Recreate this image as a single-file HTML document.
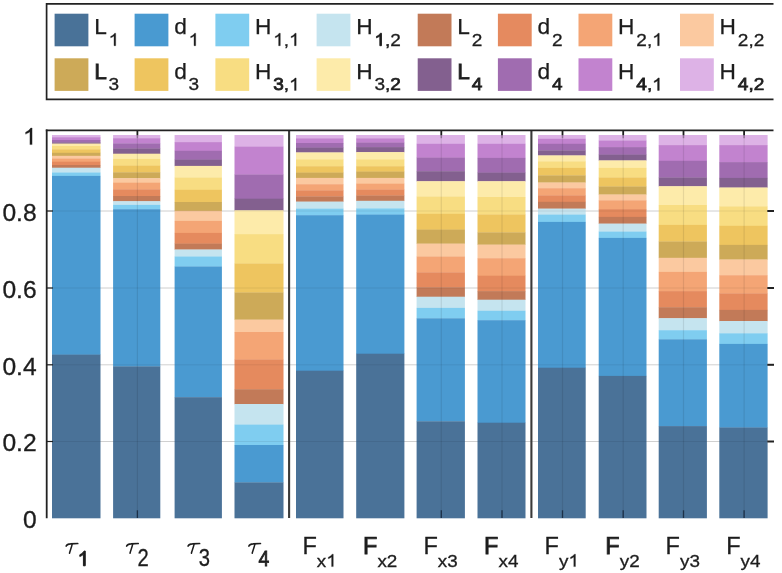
<!DOCTYPE html>
<html><head><meta charset="utf-8"><title>chart</title>
<style>html,body{margin:0;padding:0;background:#fff;}body{width:782px;height:573px;overflow:hidden;}svg{display:block;}text{font-family:"Liberation Sans",sans-serif;fill:#1c1c1c;stroke:#1c1c1c;stroke-width:0.3px;}</style></head><body>
<svg width="782" height="573" viewBox="0 0 782 573">
<defs><filter id="tb" x="-5%" y="-5%" width="110%" height="110%"><feGaussianBlur stdDeviation="0.35"/></filter></defs>
<rect width="782" height="573" fill="#fff"/>
<line x1="47" x2="773.5" y1="211.0" y2="211.0" stroke="#dcdcdc" stroke-width="0.9"/>
<line x1="47" x2="773.5" y1="288.0" y2="288.0" stroke="#dcdcdc" stroke-width="0.9"/>
<line x1="47" x2="773.5" y1="364.8" y2="364.8" stroke="#dcdcdc" stroke-width="0.9"/>
<line x1="47" x2="773.5" y1="441.5" y2="441.5" stroke="#dcdcdc" stroke-width="0.9"/>
<rect x="52.00" y="135.00" width="48.50" height="2.50" fill="#ddb2e6"/>
<rect x="52.00" y="137.20" width="48.50" height="3.10" fill="#c283cf"/>
<rect x="52.00" y="140.00" width="48.50" height="2.60" fill="#a06cb0"/>
<rect x="52.00" y="142.30" width="48.50" height="1.60" fill="#83608f"/>
<rect x="52.00" y="143.60" width="48.50" height="2.70" fill="#fdebaa"/>
<rect x="52.00" y="146.00" width="48.50" height="3.60" fill="#f8dd82"/>
<rect x="52.00" y="149.30" width="48.50" height="3.80" fill="#eec55f"/>
<rect x="52.00" y="152.80" width="48.50" height="3.30" fill="#cdaa58"/>
<rect x="52.00" y="155.80" width="48.50" height="3.00" fill="#fbc9a0"/>
<rect x="52.00" y="158.50" width="48.50" height="3.50" fill="#f4a575"/>
<rect x="52.00" y="161.70" width="48.50" height="3.60" fill="#e58a5e"/>
<rect x="52.00" y="165.00" width="48.50" height="3.00" fill="#c27a58"/>
<rect x="52.00" y="167.70" width="48.50" height="5.10" fill="#c5e4ef"/>
<rect x="52.00" y="172.50" width="48.50" height="3.70" fill="#7fcdf0"/>
<rect x="52.00" y="175.90" width="48.50" height="179.00" fill="#4a9ad1"/>
<rect x="52.00" y="354.60" width="48.50" height="163.70" fill="#4a7298"/>
<rect x="113.10" y="135.00" width="47.20" height="3.50" fill="#ddb2e6"/>
<rect x="113.10" y="138.20" width="47.20" height="5.50" fill="#c283cf"/>
<rect x="113.10" y="143.40" width="47.20" height="5.40" fill="#a06cb0"/>
<rect x="113.10" y="148.50" width="47.20" height="5.50" fill="#83608f"/>
<rect x="113.10" y="153.70" width="47.20" height="5.50" fill="#fdebaa"/>
<rect x="113.10" y="158.90" width="47.20" height="7.00" fill="#f8dd82"/>
<rect x="113.10" y="165.60" width="47.20" height="7.00" fill="#eec55f"/>
<rect x="113.10" y="172.30" width="47.20" height="6.20" fill="#cdaa58"/>
<rect x="113.10" y="178.20" width="47.20" height="4.80" fill="#fbc9a0"/>
<rect x="113.10" y="182.70" width="47.20" height="6.90" fill="#f4a575"/>
<rect x="113.10" y="189.30" width="47.20" height="7.00" fill="#e58a5e"/>
<rect x="113.10" y="196.00" width="47.20" height="5.50" fill="#c27a58"/>
<rect x="113.10" y="201.20" width="47.20" height="4.00" fill="#c5e4ef"/>
<rect x="113.10" y="204.90" width="47.20" height="4.60" fill="#7fcdf0"/>
<rect x="113.10" y="209.20" width="47.20" height="157.50" fill="#4a9ad1"/>
<rect x="113.10" y="366.40" width="47.20" height="151.90" fill="#4a7298"/>
<rect x="174.60" y="135.00" width="47.30" height="7.40" fill="#ddb2e6"/>
<rect x="174.60" y="142.10" width="47.30" height="9.00" fill="#c283cf"/>
<rect x="174.60" y="150.80" width="47.30" height="9.10" fill="#a06cb0"/>
<rect x="174.60" y="159.60" width="47.30" height="6.60" fill="#83608f"/>
<rect x="174.60" y="165.90" width="47.30" height="11.90" fill="#fdebaa"/>
<rect x="174.60" y="177.50" width="47.30" height="12.60" fill="#f8dd82"/>
<rect x="174.60" y="189.80" width="47.30" height="12.50" fill="#eec55f"/>
<rect x="174.60" y="202.00" width="47.30" height="9.10" fill="#cdaa58"/>
<rect x="174.60" y="210.80" width="47.30" height="10.40" fill="#fbc9a0"/>
<rect x="174.60" y="220.90" width="47.30" height="12.30" fill="#f4a575"/>
<rect x="174.60" y="232.90" width="47.30" height="11.00" fill="#e58a5e"/>
<rect x="174.60" y="243.60" width="47.30" height="6.20" fill="#c27a58"/>
<rect x="174.60" y="249.50" width="47.30" height="7.30" fill="#c5e4ef"/>
<rect x="174.60" y="256.50" width="47.30" height="10.30" fill="#7fcdf0"/>
<rect x="174.60" y="266.50" width="47.30" height="131.00" fill="#4a9ad1"/>
<rect x="174.60" y="397.20" width="47.30" height="121.10" fill="#4a7298"/>
<rect x="234.50" y="135.00" width="49.00" height="11.90" fill="#ddb2e6"/>
<rect x="234.50" y="146.60" width="49.00" height="28.20" fill="#c283cf"/>
<rect x="234.50" y="174.50" width="49.00" height="24.50" fill="#a06cb0"/>
<rect x="234.50" y="198.70" width="49.00" height="11.90" fill="#83608f"/>
<rect x="234.50" y="210.30" width="49.00" height="24.10" fill="#fdebaa"/>
<rect x="234.50" y="234.10" width="49.00" height="29.70" fill="#f8dd82"/>
<rect x="234.50" y="263.50" width="49.00" height="29.30" fill="#eec55f"/>
<rect x="234.50" y="292.50" width="49.00" height="27.40" fill="#cdaa58"/>
<rect x="234.50" y="319.60" width="49.00" height="12.70" fill="#fbc9a0"/>
<rect x="234.50" y="332.00" width="49.00" height="27.70" fill="#f4a575"/>
<rect x="234.50" y="359.40" width="49.00" height="30.10" fill="#e58a5e"/>
<rect x="234.50" y="389.20" width="49.00" height="15.10" fill="#c27a58"/>
<rect x="234.50" y="404.00" width="49.00" height="20.90" fill="#c5e4ef"/>
<rect x="234.50" y="424.60" width="49.00" height="20.70" fill="#7fcdf0"/>
<rect x="234.50" y="445.00" width="49.00" height="37.70" fill="#4a9ad1"/>
<rect x="234.50" y="482.40" width="49.00" height="35.90" fill="#4a7298"/>
<rect x="296.00" y="135.00" width="47.50" height="3.60" fill="#ddb2e6"/>
<rect x="296.00" y="138.30" width="47.50" height="5.00" fill="#c283cf"/>
<rect x="296.00" y="143.00" width="47.50" height="4.90" fill="#a06cb0"/>
<rect x="296.00" y="147.60" width="47.50" height="5.10" fill="#83608f"/>
<rect x="296.00" y="152.40" width="47.50" height="7.20" fill="#fdebaa"/>
<rect x="296.00" y="159.30" width="47.50" height="7.20" fill="#f8dd82"/>
<rect x="296.00" y="166.20" width="47.50" height="6.70" fill="#eec55f"/>
<rect x="296.00" y="172.60" width="47.50" height="5.60" fill="#cdaa58"/>
<rect x="296.00" y="177.90" width="47.50" height="6.60" fill="#fbc9a0"/>
<rect x="296.00" y="184.20" width="47.50" height="6.40" fill="#f4a575"/>
<rect x="296.00" y="190.30" width="47.50" height="6.40" fill="#e58a5e"/>
<rect x="296.00" y="196.40" width="47.50" height="5.50" fill="#c27a58"/>
<rect x="296.00" y="201.60" width="47.50" height="7.40" fill="#c5e4ef"/>
<rect x="296.00" y="208.70" width="47.50" height="6.80" fill="#7fcdf0"/>
<rect x="296.00" y="215.20" width="47.50" height="155.80" fill="#4a9ad1"/>
<rect x="296.00" y="370.70" width="47.50" height="147.60" fill="#4a7298"/>
<rect x="356.20" y="135.00" width="48.20" height="3.60" fill="#ddb2e6"/>
<rect x="356.20" y="138.30" width="48.20" height="4.60" fill="#c283cf"/>
<rect x="356.20" y="142.60" width="48.20" height="4.80" fill="#a06cb0"/>
<rect x="356.20" y="147.10" width="48.20" height="5.30" fill="#83608f"/>
<rect x="356.20" y="152.10" width="48.20" height="7.50" fill="#fdebaa"/>
<rect x="356.20" y="159.30" width="48.20" height="7.20" fill="#f8dd82"/>
<rect x="356.20" y="166.20" width="48.20" height="5.70" fill="#eec55f"/>
<rect x="356.20" y="171.60" width="48.20" height="6.60" fill="#cdaa58"/>
<rect x="356.20" y="177.90" width="48.20" height="6.10" fill="#fbc9a0"/>
<rect x="356.20" y="183.70" width="48.20" height="6.10" fill="#f4a575"/>
<rect x="356.20" y="189.50" width="48.20" height="6.30" fill="#e58a5e"/>
<rect x="356.20" y="195.50" width="48.20" height="5.60" fill="#c27a58"/>
<rect x="356.20" y="200.80" width="48.20" height="7.90" fill="#c5e4ef"/>
<rect x="356.20" y="208.40" width="48.20" height="6.50" fill="#7fcdf0"/>
<rect x="356.20" y="214.60" width="48.20" height="139.40" fill="#4a9ad1"/>
<rect x="356.20" y="353.70" width="48.20" height="164.60" fill="#4a7298"/>
<rect x="416.60" y="135.00" width="48.30" height="9.10" fill="#ddb2e6"/>
<rect x="416.60" y="143.80" width="48.30" height="14.10" fill="#c283cf"/>
<rect x="416.60" y="157.60" width="48.30" height="13.90" fill="#a06cb0"/>
<rect x="416.60" y="171.20" width="48.30" height="10.30" fill="#83608f"/>
<rect x="416.60" y="181.20" width="48.30" height="15.60" fill="#fdebaa"/>
<rect x="416.60" y="196.50" width="48.30" height="17.60" fill="#f8dd82"/>
<rect x="416.60" y="213.80" width="48.30" height="16.10" fill="#eec55f"/>
<rect x="416.60" y="229.60" width="48.30" height="14.30" fill="#cdaa58"/>
<rect x="416.60" y="243.60" width="48.30" height="13.20" fill="#fbc9a0"/>
<rect x="416.60" y="256.50" width="48.30" height="16.10" fill="#f4a575"/>
<rect x="416.60" y="272.30" width="48.30" height="15.30" fill="#e58a5e"/>
<rect x="416.60" y="287.30" width="48.30" height="9.70" fill="#c27a58"/>
<rect x="416.60" y="296.70" width="48.30" height="11.50" fill="#c5e4ef"/>
<rect x="416.60" y="307.90" width="48.30" height="10.70" fill="#7fcdf0"/>
<rect x="416.60" y="318.30" width="48.30" height="103.30" fill="#4a9ad1"/>
<rect x="416.60" y="421.30" width="48.30" height="97.00" fill="#4a7298"/>
<rect x="477.50" y="135.00" width="48.00" height="9.10" fill="#ddb2e6"/>
<rect x="477.50" y="143.80" width="48.00" height="14.40" fill="#c283cf"/>
<rect x="477.50" y="157.90" width="48.00" height="15.00" fill="#a06cb0"/>
<rect x="477.50" y="172.60" width="48.00" height="8.90" fill="#83608f"/>
<rect x="477.50" y="181.20" width="48.00" height="16.10" fill="#fdebaa"/>
<rect x="477.50" y="197.00" width="48.00" height="17.70" fill="#f8dd82"/>
<rect x="477.50" y="214.40" width="48.00" height="18.30" fill="#eec55f"/>
<rect x="477.50" y="232.40" width="48.00" height="12.50" fill="#cdaa58"/>
<rect x="477.50" y="244.60" width="48.00" height="13.90" fill="#fbc9a0"/>
<rect x="477.50" y="258.20" width="48.00" height="17.80" fill="#f4a575"/>
<rect x="477.50" y="275.70" width="48.00" height="15.70" fill="#e58a5e"/>
<rect x="477.50" y="291.10" width="48.00" height="8.90" fill="#c27a58"/>
<rect x="477.50" y="299.70" width="48.00" height="11.40" fill="#c5e4ef"/>
<rect x="477.50" y="310.80" width="48.00" height="9.70" fill="#7fcdf0"/>
<rect x="477.50" y="320.20" width="48.00" height="102.80" fill="#4a9ad1"/>
<rect x="477.50" y="422.70" width="48.00" height="95.60" fill="#4a7298"/>
<rect x="538.00" y="135.00" width="47.70" height="4.10" fill="#ddb2e6"/>
<rect x="538.00" y="138.80" width="47.70" height="5.30" fill="#c283cf"/>
<rect x="538.00" y="143.80" width="47.70" height="6.90" fill="#a06cb0"/>
<rect x="538.00" y="150.40" width="47.70" height="5.30" fill="#83608f"/>
<rect x="538.00" y="155.40" width="47.70" height="6.20" fill="#fdebaa"/>
<rect x="538.00" y="161.30" width="47.70" height="6.90" fill="#f8dd82"/>
<rect x="538.00" y="167.90" width="47.70" height="7.80" fill="#eec55f"/>
<rect x="538.00" y="175.40" width="47.70" height="7.40" fill="#cdaa58"/>
<rect x="538.00" y="182.50" width="47.70" height="6.00" fill="#fbc9a0"/>
<rect x="538.00" y="188.20" width="47.70" height="7.40" fill="#f4a575"/>
<rect x="538.00" y="195.30" width="47.70" height="6.80" fill="#e58a5e"/>
<rect x="538.00" y="201.80" width="47.70" height="7.10" fill="#c27a58"/>
<rect x="538.00" y="208.60" width="47.70" height="6.30" fill="#c5e4ef"/>
<rect x="538.00" y="214.60" width="47.70" height="7.60" fill="#7fcdf0"/>
<rect x="538.00" y="221.90" width="47.70" height="146.10" fill="#4a9ad1"/>
<rect x="538.00" y="367.70" width="47.70" height="150.60" fill="#4a7298"/>
<rect x="598.70" y="135.00" width="47.80" height="5.80" fill="#ddb2e6"/>
<rect x="598.70" y="140.50" width="47.80" height="6.90" fill="#c283cf"/>
<rect x="598.70" y="147.10" width="47.80" height="7.80" fill="#a06cb0"/>
<rect x="598.70" y="154.60" width="47.80" height="6.10" fill="#83608f"/>
<rect x="598.70" y="160.40" width="47.80" height="7.80" fill="#fdebaa"/>
<rect x="598.70" y="167.90" width="47.80" height="9.90" fill="#f8dd82"/>
<rect x="598.70" y="177.50" width="47.80" height="9.30" fill="#eec55f"/>
<rect x="598.70" y="186.50" width="47.80" height="8.30" fill="#cdaa58"/>
<rect x="598.70" y="194.50" width="47.80" height="6.10" fill="#fbc9a0"/>
<rect x="598.70" y="200.30" width="47.80" height="9.10" fill="#f4a575"/>
<rect x="598.70" y="209.10" width="47.80" height="8.10" fill="#e58a5e"/>
<rect x="598.70" y="216.90" width="47.80" height="7.00" fill="#c27a58"/>
<rect x="598.70" y="223.60" width="47.80" height="8.30" fill="#c5e4ef"/>
<rect x="598.70" y="231.60" width="47.80" height="6.60" fill="#7fcdf0"/>
<rect x="598.70" y="237.90" width="47.80" height="138.30" fill="#4a9ad1"/>
<rect x="598.70" y="375.90" width="47.80" height="142.40" fill="#4a7298"/>
<rect x="658.70" y="135.00" width="48.20" height="10.40" fill="#ddb2e6"/>
<rect x="658.70" y="145.10" width="48.20" height="16.00" fill="#c283cf"/>
<rect x="658.70" y="160.80" width="48.20" height="17.00" fill="#a06cb0"/>
<rect x="658.70" y="177.50" width="48.20" height="9.00" fill="#83608f"/>
<rect x="658.70" y="186.20" width="48.20" height="19.10" fill="#fdebaa"/>
<rect x="658.70" y="205.00" width="48.20" height="20.20" fill="#f8dd82"/>
<rect x="658.70" y="224.90" width="48.20" height="16.90" fill="#eec55f"/>
<rect x="658.70" y="241.50" width="48.20" height="16.60" fill="#cdaa58"/>
<rect x="658.70" y="257.80" width="48.20" height="14.40" fill="#fbc9a0"/>
<rect x="658.70" y="271.90" width="48.20" height="19.50" fill="#f4a575"/>
<rect x="658.70" y="291.10" width="48.20" height="16.40" fill="#e58a5e"/>
<rect x="658.70" y="307.20" width="48.20" height="11.30" fill="#c27a58"/>
<rect x="658.70" y="318.20" width="48.20" height="12.30" fill="#c5e4ef"/>
<rect x="658.70" y="330.20" width="48.20" height="9.40" fill="#7fcdf0"/>
<rect x="658.70" y="339.30" width="48.20" height="87.10" fill="#4a9ad1"/>
<rect x="658.70" y="426.10" width="48.20" height="92.20" fill="#4a7298"/>
<rect x="719.30" y="135.00" width="48.30" height="10.40" fill="#ddb2e6"/>
<rect x="719.30" y="145.10" width="48.30" height="17.30" fill="#c283cf"/>
<rect x="719.30" y="162.10" width="48.30" height="16.10" fill="#a06cb0"/>
<rect x="719.30" y="177.90" width="48.30" height="9.90" fill="#83608f"/>
<rect x="719.30" y="187.50" width="48.30" height="19.10" fill="#fdebaa"/>
<rect x="719.30" y="206.30" width="48.30" height="19.80" fill="#f8dd82"/>
<rect x="719.30" y="225.80" width="48.30" height="19.40" fill="#eec55f"/>
<rect x="719.30" y="244.90" width="48.30" height="14.90" fill="#cdaa58"/>
<rect x="719.30" y="259.50" width="48.30" height="16.00" fill="#fbc9a0"/>
<rect x="719.30" y="275.20" width="48.30" height="18.40" fill="#f4a575"/>
<rect x="719.30" y="293.30" width="48.30" height="16.90" fill="#e58a5e"/>
<rect x="719.30" y="309.90" width="48.30" height="11.40" fill="#c27a58"/>
<rect x="719.30" y="321.00" width="48.30" height="12.60" fill="#c5e4ef"/>
<rect x="719.30" y="333.30" width="48.30" height="10.90" fill="#7fcdf0"/>
<rect x="719.30" y="343.90" width="48.30" height="83.90" fill="#4a9ad1"/>
<rect x="719.30" y="427.50" width="48.30" height="90.80" fill="#4a7298"/>
<line x1="47" x2="773.5" y1="211.0" y2="211.0" stroke="#000" stroke-opacity="0.07" stroke-width="1"/>
<line x1="47" x2="773.5" y1="288.0" y2="288.0" stroke="#000" stroke-opacity="0.07" stroke-width="1"/>
<line x1="47" x2="773.5" y1="364.8" y2="364.8" stroke="#000" stroke-opacity="0.07" stroke-width="1"/>
<line x1="47" x2="773.5" y1="441.5" y2="441.5" stroke="#000" stroke-opacity="0.07" stroke-width="1"/>
<line x1="137.40" x2="137.40" y1="131" y2="518" stroke="#000" stroke-opacity="0.09" stroke-width="1.2"/>
<line x1="137.40" x2="137.40" y1="130" y2="135.2" stroke="#1e1e1e" stroke-width="1.8"/>
<line x1="137.40" x2="137.40" y1="135.2" y2="138.2" stroke="#000" stroke-opacity="0.3" stroke-width="1.6"/>
<line x1="137.40" x2="137.40" y1="510.3" y2="518" stroke="#1c3048" stroke-width="1.3"/>
<line x1="441.30" x2="441.30" y1="131" y2="518" stroke="#000" stroke-opacity="0.09" stroke-width="1.2"/>
<line x1="441.30" x2="441.30" y1="130" y2="135.2" stroke="#1e1e1e" stroke-width="1.8"/>
<line x1="441.30" x2="441.30" y1="135.2" y2="138.2" stroke="#000" stroke-opacity="0.3" stroke-width="1.6"/>
<line x1="441.30" x2="441.30" y1="510.3" y2="518" stroke="#1c3048" stroke-width="1.3"/>
<line x1="502.00" x2="502.00" y1="131" y2="518" stroke="#000" stroke-opacity="0.09" stroke-width="1.2"/>
<line x1="502.00" x2="502.00" y1="130" y2="135.2" stroke="#1e1e1e" stroke-width="1.8"/>
<line x1="502.00" x2="502.00" y1="135.2" y2="138.2" stroke="#000" stroke-opacity="0.3" stroke-width="1.6"/>
<line x1="502.00" x2="502.00" y1="510.3" y2="518" stroke="#1c3048" stroke-width="1.3"/>
<line x1="562.50" x2="562.50" y1="131" y2="518" stroke="#000" stroke-opacity="0.09" stroke-width="1.2"/>
<line x1="562.50" x2="562.50" y1="130" y2="135.2" stroke="#1e1e1e" stroke-width="1.8"/>
<line x1="562.50" x2="562.50" y1="135.2" y2="138.2" stroke="#000" stroke-opacity="0.3" stroke-width="1.6"/>
<line x1="562.50" x2="562.50" y1="510.3" y2="518" stroke="#1c3048" stroke-width="1.3"/>
<line x1="623.20" x2="623.20" y1="131" y2="518" stroke="#000" stroke-opacity="0.09" stroke-width="1.2"/>
<line x1="623.20" x2="623.20" y1="130" y2="135.2" stroke="#1e1e1e" stroke-width="1.8"/>
<line x1="623.20" x2="623.20" y1="135.2" y2="138.2" stroke="#000" stroke-opacity="0.3" stroke-width="1.6"/>
<line x1="623.20" x2="623.20" y1="510.3" y2="518" stroke="#1c3048" stroke-width="1.3"/>
<line x1="683.50" x2="683.50" y1="131" y2="518" stroke="#000" stroke-opacity="0.09" stroke-width="1.2"/>
<line x1="683.50" x2="683.50" y1="130" y2="135.2" stroke="#1e1e1e" stroke-width="1.8"/>
<line x1="683.50" x2="683.50" y1="135.2" y2="138.2" stroke="#000" stroke-opacity="0.3" stroke-width="1.6"/>
<line x1="683.50" x2="683.50" y1="510.3" y2="518" stroke="#1c3048" stroke-width="1.3"/>
<line x1="744.10" x2="744.10" y1="131" y2="518" stroke="#000" stroke-opacity="0.09" stroke-width="1.2"/>
<line x1="744.10" x2="744.10" y1="130" y2="135.2" stroke="#1e1e1e" stroke-width="1.8"/>
<line x1="744.10" x2="744.10" y1="135.2" y2="138.2" stroke="#000" stroke-opacity="0.3" stroke-width="1.6"/>
<line x1="744.10" x2="744.10" y1="510.3" y2="518" stroke="#1c3048" stroke-width="1.3"/>
<line x1="289.1" x2="289.1" y1="130" y2="518" stroke="#3a3a3a" stroke-width="2.1"/>
<line x1="531.4" x2="531.4" y1="130" y2="518" stroke="#3a3a3a" stroke-width="2.1"/>
<line x1="45.8" x2="773.5" y1="130.4" y2="130.4" stroke="#222" stroke-width="1.9"/>
<line x1="46.7" x2="46.7" y1="129.5" y2="518.2" stroke="#222" stroke-width="1.8"/>
<line x1="46" x2="53" y1="211.0" y2="211.0" stroke="#222" stroke-width="1.2"/>
<line x1="767.3" x2="774" y1="211.0" y2="211.0" stroke="#222" stroke-width="2"/>
<line x1="46" x2="53" y1="288.0" y2="288.0" stroke="#222" stroke-width="1.2"/>
<line x1="767.3" x2="774" y1="288.0" y2="288.0" stroke="#222" stroke-width="2"/>
<line x1="46" x2="53" y1="364.8" y2="364.8" stroke="#222" stroke-width="1.2"/>
<line x1="767.3" x2="774" y1="364.8" y2="364.8" stroke="#222" stroke-width="2"/>
<line x1="46" x2="53" y1="441.5" y2="441.5" stroke="#222" stroke-width="1.2"/>
<line x1="767.3" x2="774" y1="441.5" y2="441.5" stroke="#222" stroke-width="2"/>
<g filter="url(#tb)">
<g transform="translate(36.60,144.60) scale(1.07,1)"><path d="M763 0H583V1147Q518 1085 412.5 1023Q307 961 223 930V1104Q374 1175 487 1276Q600 1377 647 1472H763Z" transform="translate(-12.79,0.00) scale(0.01123,-0.01123)" fill="#1c1c1c" stroke="#1c1c1c" stroke-width="26.7"/></g>
<g transform="translate(36.60,220.90) scale(1.07,1)"><text x="-31.97" y="0" font-size="23" style="stroke-width:0.3px">0</text><text x="-19.18" y="0" font-size="23" style="stroke-width:0.3px">.</text><text x="-12.79" y="0" font-size="23" style="stroke-width:0.3px">8</text></g>
<g transform="translate(36.60,297.90) scale(1.07,1)"><text x="-31.97" y="0" font-size="23" style="stroke-width:0.3px">0</text><text x="-19.18" y="0" font-size="23" style="stroke-width:0.3px">.</text><text x="-12.79" y="0" font-size="23" style="stroke-width:0.3px">6</text></g>
<g transform="translate(36.60,374.70) scale(1.07,1)"><text x="-31.97" y="0" font-size="23" style="stroke-width:0.3px">0</text><text x="-19.18" y="0" font-size="23" style="stroke-width:0.3px">.</text><text x="-12.79" y="0" font-size="23" style="stroke-width:0.3px">4</text></g>
<g transform="translate(36.60,451.40) scale(1.07,1)"><text x="-31.97" y="0" font-size="23" style="stroke-width:0.3px">0</text><text x="-19.18" y="0" font-size="23" style="stroke-width:0.3px">.</text><text x="-12.79" y="0" font-size="23" style="stroke-width:0.3px">2</text></g>
<g transform="translate(36.60,528.30) scale(1.07,1)"><text x="-12.79" y="0" font-size="23" style="stroke-width:0.3px">0</text></g>
<g transform="translate(65.80,543.0)" fill="none" stroke="#1c1c1c" stroke-linecap="round" stroke-linejoin="round"><path d="M0.4,3.0 C1.2,1.3 2.6,0.8 4.6,0.8 L11.9,0.5" stroke-width="1.7"/><path d="M6.4,1.2 C5.8,4.2 4.4,7.6 3.7,10.2" stroke-width="1.5"/></g>
<path d="M763 0H583V1147Q518 1085 412.5 1023Q307 961 223 930V1104Q374 1175 487 1276Q600 1377 647 1472H763Z" transform="translate(77.60,565.80) scale(0.01001,-0.01001)" fill="#1c1c1c" stroke="#1c1c1c" stroke-width="99.9"/>
<g transform="translate(126.30,543.0)" fill="none" stroke="#1c1c1c" stroke-linecap="round" stroke-linejoin="round"><path d="M0.4,3.0 C1.2,1.3 2.6,0.8 4.6,0.8 L11.9,0.5" stroke-width="1.7"/><path d="M6.4,1.2 C5.8,4.2 4.4,7.6 3.7,10.2" stroke-width="1.5"/></g>
<text transform="translate(137.6,566.2) scale(0.86,1)" x="0" y="0" font-size="23.5" style="stroke-width:0.3px">2</text>
<g transform="translate(187.70,543.0)" fill="none" stroke="#1c1c1c" stroke-linecap="round" stroke-linejoin="round"><path d="M0.4,3.0 C1.2,1.3 2.6,0.8 4.6,0.8 L11.9,0.5" stroke-width="1.7"/><path d="M6.4,1.2 C5.8,4.2 4.4,7.6 3.7,10.2" stroke-width="1.5"/></g>
<text transform="translate(198.8,566.0) scale(0.86,1)" x="0" y="0" font-size="23.5" style="stroke-width:0.3px">3</text>
<g transform="translate(248.50,543.0)" fill="none" stroke="#1c1c1c" stroke-linecap="round" stroke-linejoin="round"><path d="M0.4,3.0 C1.2,1.3 2.6,0.8 4.6,0.8 L11.9,0.5" stroke-width="1.7"/><path d="M6.4,1.2 C5.8,4.2 4.4,7.6 3.7,10.2" stroke-width="1.5"/></g>
<text transform="translate(258.6,566.2) scale(0.9,1)" x="0" y="0" font-size="21.5" style="stroke-width:0.8px">4</text>
<text x="302.4" y="553.8" font-size="23.5" style="stroke-width:0.3px">F</text>
<g transform="translate(316.80,566.60) scale(1.09,1)"><text x="0.00" y="0" font-size="17.3" style="stroke-width:0.3px">x</text><path d="M763 0H583V1147Q518 1085 412.5 1023Q307 961 223 930V1104Q374 1175 487 1276Q600 1377 647 1472H763Z" transform="translate(8.65,0.00) scale(0.00845,-0.00845)" fill="#1c1c1c" stroke="#1c1c1c" stroke-width="35.5"/></g>
<text x="363.0" y="553.8" font-size="23.5" style="stroke-width:0.75px">F</text>
<g transform="translate(377.40,566.60) scale(1.09,1)"><text x="0.00" y="0" font-size="17.3" style="stroke-width:0.3px">x</text><text x="8.65" y="0" font-size="17.3" style="stroke-width:0.3px">2</text></g>
<text x="423.4" y="553.8" font-size="23.5" style="stroke-width:0.3px">F</text>
<g transform="translate(437.80,566.60) scale(1.09,1)"><text x="0.00" y="0" font-size="17.3" style="stroke-width:0.3px">x</text><text x="8.65" y="0" font-size="17.3" style="stroke-width:0.3px">3</text></g>
<text x="484.1" y="553.8" font-size="23.5" style="stroke-width:0.75px">F</text>
<g transform="translate(498.50,566.60) scale(1.09,1)"><text x="0.00" y="0" font-size="17.3" style="stroke-width:0.3px">x</text><text x="8.65" y="0" font-size="17.3" style="stroke-width:0.3px">4</text></g>
<text x="544.6" y="553.8" font-size="23.5" style="stroke-width:0.3px">F</text>
<g transform="translate(559.00,566.60) scale(1.09,1)"><text x="0.00" y="0" font-size="17.3" style="stroke-width:0.3px">y</text><path d="M763 0H583V1147Q518 1085 412.5 1023Q307 961 223 930V1104Q374 1175 487 1276Q600 1377 647 1472H763Z" transform="translate(8.65,0.00) scale(0.00845,-0.00845)" fill="#1c1c1c" stroke="#1c1c1c" stroke-width="35.5"/></g>
<text x="605.3" y="553.8" font-size="23.5" style="stroke-width:0.75px">F</text>
<g transform="translate(619.70,566.60) scale(1.09,1)"><text x="0.00" y="0" font-size="17.3" style="stroke-width:0.3px">y</text><text x="8.65" y="0" font-size="17.3" style="stroke-width:0.3px">2</text></g>
<text x="665.6" y="553.8" font-size="23.5" style="stroke-width:0.3px">F</text>
<g transform="translate(680.00,566.60) scale(1.09,1)"><text x="0.00" y="0" font-size="17.3" style="stroke-width:0.3px">y</text><text x="8.65" y="0" font-size="17.3" style="stroke-width:0.3px">3</text></g>
<text x="726.2" y="553.8" font-size="23.5" style="stroke-width:0.3px">F</text>
<g transform="translate(740.60,566.60) scale(1.09,1)"><text x="0.00" y="0" font-size="17.3" style="stroke-width:0.3px">y</text><text x="8.65" y="0" font-size="17.3" style="stroke-width:0.3px">4</text></g>
<path d="M773.5 3.9 H46.6 V99.4 H773.5" fill="none" stroke="#222" stroke-width="1.7"/>
<rect x="54.6" y="13.7" width="33.8" height="32.6" fill="#4a7298"/>
<text x="94.2" y="33.9" font-size="22.7" style="stroke-width:0.25px">L</text>
<g transform="translate(108.60,45.70) scale(1.1,1)"><path d="M763 0H583V1147Q518 1085 412.5 1023Q307 961 223 930V1104Q374 1175 487 1276Q600 1377 647 1472H763Z" transform="translate(0.00,0.00) scale(0.00845,-0.00845)" fill="#1c1c1c" stroke="#1c1c1c" stroke-width="35.5"/></g>
<rect x="134.6" y="13.7" width="33.8" height="32.6" fill="#4a9ad1"/>
<text x="174.2" y="33.9" font-size="22.7" style="stroke-width:0.25px">d</text>
<g transform="translate(188.60,45.70) scale(1.1,1)"><path d="M763 0H583V1147Q518 1085 412.5 1023Q307 961 223 930V1104Q374 1175 487 1276Q600 1377 647 1472H763Z" transform="translate(0.00,0.00) scale(0.00845,-0.00845)" fill="#1c1c1c" stroke="#1c1c1c" stroke-width="35.5"/></g>
<rect x="215.4" y="13.7" width="33.8" height="32.6" fill="#7fcdf0"/>
<text x="255.0" y="33.9" font-size="22.7" style="stroke-width:0.25px">H</text>
<g transform="translate(273.20,45.70) scale(1.1,1)"><path d="M763 0H583V1147Q518 1085 412.5 1023Q307 961 223 930V1104Q374 1175 487 1276Q600 1377 647 1472H763Z" transform="translate(0.00,0.00) scale(0.00845,-0.00845)" fill="#1c1c1c" stroke="#1c1c1c" stroke-width="35.5"/><text x="9.62" y="0" font-size="17.3" style="stroke-width:0.3px">,</text><path d="M763 0H583V1147Q518 1085 412.5 1023Q307 961 223 930V1104Q374 1175 487 1276Q600 1377 647 1472H763Z" transform="translate(14.43,0.00) scale(0.00845,-0.00845)" fill="#1c1c1c" stroke="#1c1c1c" stroke-width="35.5"/></g>
<rect x="316.6" y="13.7" width="33.8" height="32.6" fill="#c5e4ef"/>
<text x="356.2" y="33.9" font-size="22.7" style="stroke-width:0.25px">H</text>
<g transform="translate(374.40,45.70) scale(1.1,1)"><path d="M763 0H583V1147Q518 1085 412.5 1023Q307 961 223 930V1104Q374 1175 487 1276Q600 1377 647 1472H763Z" transform="translate(0.00,0.00) scale(0.00845,-0.00845)" fill="#1c1c1c" stroke="#1c1c1c" stroke-width="94.7"/><text x="9.62" y="0" font-size="17.3" style="stroke-width:0.5px">,</text><text x="14.43" y="0" font-size="17.3" style="stroke-width:0.3px">2</text></g>
<rect x="417.7" y="13.7" width="33.8" height="32.6" fill="#c27a58"/>
<text x="457.3" y="33.9" font-size="22.7" style="stroke-width:0.25px">L</text>
<g transform="translate(471.70,45.70) scale(1.1,1)"><text x="0.00" y="0" font-size="17.3" style="stroke-width:0.3px">2</text></g>
<rect x="497.9" y="13.7" width="33.8" height="32.6" fill="#e58a5e"/>
<text x="537.5" y="33.9" font-size="22.7" style="stroke-width:0.25px">d</text>
<g transform="translate(551.90,45.70) scale(1.1,1)"><text x="0.00" y="0" font-size="17.3" style="stroke-width:0.3px">2</text></g>
<rect x="578.5" y="13.7" width="33.8" height="32.6" fill="#f4a575"/>
<text x="618.1" y="33.9" font-size="22.7" style="stroke-width:0.25px">H</text>
<g transform="translate(636.30,45.70) scale(1.1,1)"><text x="0.00" y="0" font-size="17.3" style="stroke-width:0.3px">2</text><text x="9.62" y="0" font-size="17.3" style="stroke-width:0.3px">,</text><path d="M763 0H583V1147Q518 1085 412.5 1023Q307 961 223 930V1104Q374 1175 487 1276Q600 1377 647 1472H763Z" transform="translate(14.43,0.00) scale(0.00845,-0.00845)" fill="#1c1c1c" stroke="#1c1c1c" stroke-width="35.5"/></g>
<rect x="680.0" y="13.7" width="33.8" height="32.6" fill="#fbc9a0"/>
<text x="719.6" y="33.9" font-size="22.7" style="stroke-width:0.25px">H</text>
<g transform="translate(737.80,45.70) scale(1.1,1)"><text x="0.00" y="0" font-size="17.3" style="stroke-width:0.3px">2</text><text x="9.62" y="0" font-size="17.3" style="stroke-width:0.3px">,</text><text x="14.43" y="0" font-size="17.3" style="stroke-width:0.3px">2</text></g>
<rect x="54.6" y="58.3" width="33.8" height="32.6" fill="#cdaa58"/>
<text x="94.2" y="78.6" font-size="22.7" style="stroke-width:0.8px">L</text>
<g transform="translate(108.60,90.40) scale(1.1,1)"><text x="0.00" y="0" font-size="17.3" style="stroke-width:0.3px">3</text></g>
<rect x="134.6" y="58.3" width="33.8" height="32.6" fill="#eec55f"/>
<text x="174.2" y="78.6" font-size="22.7" style="stroke-width:0.25px">d</text>
<g transform="translate(188.60,90.40) scale(1.1,1)"><text x="0.00" y="0" font-size="17.3" style="stroke-width:0.3px">3</text></g>
<rect x="215.4" y="58.3" width="33.8" height="32.6" fill="#f8dd82"/>
<text x="255.0" y="78.6" font-size="22.7" style="stroke-width:0.25px">H</text>
<g transform="translate(273.20,90.40) scale(1.1,1)"><text x="0.00" y="0" font-size="17.3" style="stroke-width:0.8px">3</text><text x="9.62" y="0" font-size="17.3" style="stroke-width:0.5px">,</text><path d="M763 0H583V1147Q518 1085 412.5 1023Q307 961 223 930V1104Q374 1175 487 1276Q600 1377 647 1472H763Z" transform="translate(14.43,0.00) scale(0.00845,-0.00845)" fill="#1c1c1c" stroke="#1c1c1c" stroke-width="35.5"/></g>
<rect x="316.6" y="58.3" width="33.8" height="32.6" fill="#fdebaa"/>
<text x="356.2" y="78.6" font-size="22.7" style="stroke-width:0.25px">H</text>
<g transform="translate(374.40,90.40) scale(1.1,1)"><text x="0.00" y="0" font-size="17.3" style="stroke-width:0.3px">3</text><text x="9.62" y="0" font-size="17.3" style="stroke-width:0.5px">,</text><text x="14.43" y="0" font-size="17.3" style="stroke-width:0.7px">2</text></g>
<rect x="417.7" y="58.3" width="33.8" height="32.6" fill="#83608f"/>
<text x="457.3" y="78.6" font-size="22.7" style="stroke-width:0.8px">L</text>
<g transform="translate(471.70,90.40) scale(1.1,1)"><text x="0.00" y="0" font-size="17.3" style="stroke-width:0.8px">4</text></g>
<rect x="497.9" y="58.3" width="33.8" height="32.6" fill="#a06cb0"/>
<text x="537.5" y="78.6" font-size="22.7" style="stroke-width:0.25px">d</text>
<g transform="translate(551.90,90.40) scale(1.1,1)"><text x="0.00" y="0" font-size="17.3" style="stroke-width:0.6px">4</text></g>
<rect x="578.5" y="58.3" width="33.8" height="32.6" fill="#c283cf"/>
<text x="618.1" y="78.6" font-size="22.7" style="stroke-width:0.25px">H</text>
<g transform="translate(636.30,90.40) scale(1.1,1)"><text x="0.00" y="0" font-size="17.3" style="stroke-width:0.8px">4</text><text x="9.62" y="0" font-size="17.3" style="stroke-width:0.6px">,</text><path d="M763 0H583V1147Q518 1085 412.5 1023Q307 961 223 930V1104Q374 1175 487 1276Q600 1377 647 1472H763Z" transform="translate(14.43,0.00) scale(0.00845,-0.00845)" fill="#1c1c1c" stroke="#1c1c1c" stroke-width="47.4"/></g>
<rect x="680.0" y="58.3" width="33.8" height="32.6" fill="#ddb2e6"/>
<text x="719.6" y="78.6" font-size="22.7" style="stroke-width:0.25px">H</text>
<g transform="translate(737.80,90.40) scale(1.1,1)"><text x="0.00" y="0" font-size="17.3" style="stroke-width:0.8px">4</text><text x="9.62" y="0" font-size="17.3" style="stroke-width:0.7px">,</text><text x="14.43" y="0" font-size="17.3" style="stroke-width:0.7px">2</text></g>
</g>
</svg></body></html>
